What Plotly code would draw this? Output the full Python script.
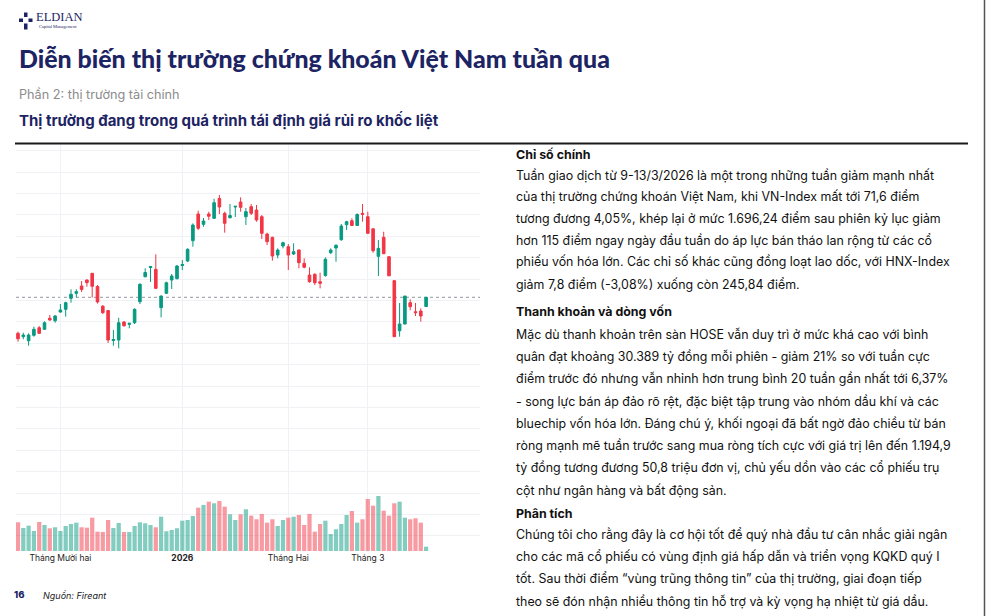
import pandas as pd
import plotly.graph_objects as go

# ---------------- data ----------------
holidays = ["2026-01-01", "2026-01-02", "2026-02-16", "2026-02-17",
            "2026-02-18", "2026-02-19", "2026-02-20"]
sessions = [d.strftime("%Y-%m-%d") for d in pd.bdate_range("2025-11-19", "2026-03-17")
            if d.strftime("%Y-%m-%d") not in holidays]

open_ = [1655.6, 1649.0, 1641.1, 1651.7, 1666.6, 1663.5, 1685.1, 1680.4, 1697.4, 1702.7,
         1724.3, 1734.1, 1748.5, 1760.2, 1773.4, 1747.5, 1708.8, 1700.4, 1641.5, 1642.5,
         1677.8, 1673.3, 1676.4, 1717.6, 1766.7, 1784.8, 1781.2, 1705.9, 1734.1, 1760.2,
         1762.8, 1788.7, 1797.5, 1837.4, 1889.8, 1869.5, 1889.8, 1881.3, 1920.2, 1891.1,
         1882.5, 1903.5, 1913.3, 1884.5, 1904.1, 1897.6, 1884.5, 1850.5, 1844.0, 1809.3,
         1827.0, 1825.6, 1811.3, 1819.1, 1793.0, 1770.0, 1771.4, 1756.9, 1769.1, 1813.8,
         1823.0, 1839.3, 1868.8, 1876.6, 1867.2, 1891.1, 1884.5, 1860.7, 1806.7, 1844.0,
         1806.0, 1758.9, 1660.7, 1673.9, 1715.7, 1698.0, 1699.4, 1708.2]
high = [1658.8, 1656.8, 1655.6, 1668.6, 1670.0, 1679.2, 1691.5, 1691.5, 1713.1, 1717.6,
        1742.0, 1742.0, 1758.3, 1761.6, 1774.0, 1750.4, 1711.2, 1701.4, 1662.1, 1686.0,
        1679.8, 1675.8, 1704.7, 1753.8, 1783.2, 1787.7, 1810.7, 1729.8, 1756.9, 1772.0,
        1789.7, 1799.5, 1822.4, 1871.5, 1896.2, 1881.9, 1894.3, 1919.8, 1927.1, 1894.3,
        1909.4, 1905.5, 1922.5, 1901.5, 1909.4, 1907.4, 1887.8, 1853.1, 1845.2, 1822.4,
        1835.4, 1830.9, 1832.3, 1820.1, 1802.8, 1785.2, 1773.4, 1774.6, 1804.8, 1822.4,
        1830.3, 1870.1, 1876.6, 1881.3, 1891.1, 1909.4, 1894.3, 1861.7, 1838.7, 1855.0,
        1807.3, 1760.2, 1715.1, 1728.8, 1722.4, 1715.1, 1704.7, 1726.8]
low = [1639.1, 1643.9, 1631.3, 1649.0, 1654.3, 1662.1, 1680.4, 1676.4, 1696.1, 1688.2,
       1715.7, 1726.3, 1736.7, 1747.1, 1725.9, 1714.1, 1693.5, 1636.6, 1631.3, 1626.2,
       1668.6, 1665.4, 1673.9, 1713.1, 1765.5, 1756.3, 1742.6, 1687.0, 1732.8, 1742.6,
       1761.6, 1779.9, 1795.6, 1825.6, 1858.4, 1864.8, 1878.0, 1880.0, 1889.8, 1853.1,
       1880.9, 1883.9, 1894.3, 1868.2, 1887.8, 1874.7, 1840.7, 1828.9, 1798.1, 1802.8,
       1822.4, 1779.9, 1809.3, 1783.2, 1783.2, 1754.9, 1750.4, 1743.9, 1766.7, 1811.3,
       1796.1, 1837.4, 1858.4, 1866.2, 1866.2, 1874.7, 1850.5, 1813.8, 1768.1, 1811.3,
       1768.1, 1648.4, 1649.0, 1672.9, 1700.8, 1689.6, 1678.4, 1707.8]
close = [1645.0, 1652.3, 1652.3, 1663.5, 1655.6, 1676.4, 1681.7, 1689.6, 1701.4, 1715.7,
         1732.2, 1737.3, 1741.6, 1754.9, 1747.9, 1717.1, 1696.1, 1642.5, 1643.5, 1676.4,
         1670.5, 1675.3, 1702.7, 1751.8, 1775.0, 1786.7, 1743.9, 1728.8, 1754.9, 1768.1,
         1787.7, 1790.7, 1820.5, 1868.2, 1861.7, 1876.0, 1885.3, 1911.9, 1903.5, 1871.5,
         1886.8, 1904.9, 1902.9, 1894.3, 1891.1, 1878.0, 1851.9, 1835.4, 1807.3, 1819.1,
         1833.4, 1809.3, 1815.8, 1794.2, 1785.2, 1756.9, 1754.9, 1753.8, 1800.9, 1819.1,
         1828.3, 1866.2, 1874.7, 1867.2, 1888.8, 1889.2, 1851.9, 1817.7, 1822.4, 1811.8,
         1768.5, 1649.0, 1673.9, 1728.8, 1707.8, 1696.2, 1689.6, 1726.3]
volume = [718, 575, 633, 500, 725, 650, 568, 593, 500, 625,
          675, 708, 593, 583, 833, 483, 475, 775, 575, 700,
          475, 475, 625, 718, 693, 650, 593, 858, 493, 525,
          568, 758, 775, 875, 1083, 1150, 1233, 1193, 1250, 1108,
          918, 775, 918, 1043, 883, 793, 925, 708, 793, 625,
          775, 833, 858, 900, 650, 925, 483, 675, 758, 425,
          543, 675, 900, 1000, 708, 793, 1300, 1133, 1375, 1008,
          883, 1193, 1233, 833, 793, 818, 708, 108]

tick_dates = ["2025-12-01", "2026-01-05", "2026-02-02", "2026-03-02"]
tick_labels = ["Tháng Mười hai", "<b>2026</b>", "Tháng Hai", "Tháng 3"]

# ---------------- styling ----------------
UP, DOWN = "#089981", "#f23645"
UP_V, DOWN_V = "rgba(8,153,129,0.5)", "rgba(242,54,69,0.5)"
NAVY = "#1d2463"
GRID = "#f0f1f4"
W, H = 987, 616
L, R, T, B = 16, 480, 145, 551


def px(x):
    return (x - L) / (R - L)


def py(y):
    return (B - y) / (B - T)


vol_colors = [UP_V if c >= o else DOWN_V for o, c in zip(open_, close)]

fig = go.Figure()
fig.add_trace(go.Bar(x=sessions, y=volume, marker=dict(color=vol_colors, line=dict(width=0)),
                     yaxis="y2", showlegend=False, hoverinfo="skip"))
fig.add_trace(go.Candlestick(x=sessions, open=open_, high=high, low=low, close=close,
                             increasing=dict(line=dict(color=UP, width=1), fillcolor=UP),
                             decreasing=dict(line=dict(color=DOWN, width=1), fillcolor=DOWN),
                             whiskerwidth=0, showlegend=False))

shapes = []
shapes.append(dict(type="line", xref="paper", yref="y", x0=0, x1=1, y0=close[-1], y1=close[-1],
                   line=dict(color="#9598a1", width=1, dash="dot"), layer="below"))
shapes.append(dict(type="line", xref="paper", yref="paper", x0=px(15), x1=px(968),
                   y0=py(143.5), y1=py(143.5), line=dict(color="#1a1a1a", width=2)))
shapes.append(dict(type="line", xref="paper", yref="paper", x0=px(984.5), x1=px(984.5),
                   y0=py(0), y1=py(616), line=dict(color="#555555", width=1.5)))
for (x0, y0, x1, y1) in [(24, 12.5, 27.5, 29.5), (19, 18.5, 32.5, 22)]:
    shapes.append(dict(type="rect", xref="paper", yref="paper", x0=px(x0), x1=px(x1),
                       y0=py(y1), y1=py(y0), line=dict(width=0), fillcolor=NAVY))
shapes.append(dict(type="rect", xref="paper", yref="paper", x0=px(23), x1=px(28.5),
                   y0=py(23.5), y1=py(17), line=dict(width=0), fillcolor="white"))

ann = []


def text(x, y, s, size, color="#1a1a1a", family="Inter", weight=None, anchor="left", italic=False):
    f = dict(size=size, color=color, family=family)
    if weight:
        f["weight"] = weight
    if italic:
        f["style"] = "italic"
    ann.append(dict(x=px(x), y=py(y), xref="paper", yref="paper", text=s, showarrow=False,
                    xanchor=anchor, yanchor="middle", font=f))


text(34, 17, "ELDIAN", 12.5, NAVY, "Liberation Serif")
text(37, 26.5, "Capital Management", 4.5, NAVY, "Liberation Serif")
text(17, 58, "Diễn biến thị trường chứng khoán Việt Nam tuần qua", 24.9, NAVY, "Lato", 900)
text(17, 94, "Phần 2: thị trường tài chính", 12.7, "#8c8c8c", "Inter")
text(17, 120, "Thị trường đang trong quá trình tái định giá rủi ro khốc liệt", 15, NAVY, "Inter", 700)

body = [
    (154, "Chỉ số chính", True),
    (175.5, "Tuần giao dịch từ 9-13/3/2026 là một trong những tuần giảm mạnh nhất", False),
    (197, "của thị trường chứng khoán Việt Nam, khi VN-Index mất tới 71,6 điểm", False),
    (218.5, "tương đương 4,05%, khép lại ở mức 1.696,24 điểm sau phiên kỷ lục giảm", False),
    (240, "hơn 115 điểm ngay ngày đầu tuần do áp lực bán tháo lan rộng từ các cổ", False),
    (261.5, "phiếu vốn hóa lớn. Các chỉ số khác cũng đồng loạt lao dốc, với HNX-Index", False),
    (284, "giảm 7,8 điểm (-3,08%) xuống còn 245,84 điểm.", False),
    (311, "Thanh khoản và dòng vốn", True),
    (334, "Mặc dù thanh khoản trên sàn HOSE vẫn duy trì ở mức khá cao với bình", False),
    (356.5, "quân đạt khoảng 30.389 tỷ đồng mỗi phiên - giảm 21% so với tuần cực", False),
    (378.5, "điểm trước đó nhưng vẫn nhỉnh hơn trung bình 20 tuần gần nhất tới 6,37%", False),
    (401, "- song lực bán áp đảo rõ rệt, đặc biệt tập trung vào nhóm dầu khí và các", False),
    (423, "bluechip vốn hóa lớn. Đáng chú ý, khối ngoại đã bất ngờ đảo chiều từ bán", False),
    (445.5, "ròng mạnh mẽ tuần trước sang mua ròng tích cực với giá trị lên đến 1.194,9", False),
    (467.5, "tỷ đồng tương đương 50,8 triệu đơn vị, chủ yếu dồn vào các cổ phiếu trụ", False),
    (490, "cột như ngân hàng và bất động sản.", False),
    (513, "Phân tích", True),
    (534.5, "Chúng tôi cho rằng đây là cơ hội tốt để quý nhà đầu tư cân nhắc giải ngân", False),
    (556.5, "cho các mã cổ phiếu có vùng định giá hấp dẫn và triển vọng KQKD quý I", False),
    (578.5, "tốt. Sau thời điểm “vùng trũng thông tin” của thị trường, giai đoạn tiếp", False),
    (601, "theo sẽ đón nhận nhiều thông tin hỗ trợ và kỳ vọng hạ nhiệt từ giá dầu.", False),
]
for y, s, bold in body:
    text(514, y, s, 12.4 if bold else 12.4, "#111111", "Inter", 700 if bold else 400)

text(12, 594.5, "16", 9.5, NAVY, "Inter", 800)
text(41, 595.5, "Nguồn: Fireant", 9, "#222222", "Inter", italic=True)

fig.update_layout(
    width=W, height=H,
    margin=dict(l=L, r=W - R, t=T, b=H - B, pad=0),
    paper_bgcolor="white", plot_bgcolor="white",
    showlegend=False,
    bargap=0.2,
    boxgap=0.3,
    xaxis=dict(type="category", range=[-0.377, 87.17], rangeslider=dict(visible=False),
               tickmode="array", tickvals=tick_dates, ticktext=tick_labels,
               showgrid=True, gridcolor=GRID, gridwidth=1, showline=False, zeroline=False,
               ticks="", tickfont=dict(family="Inter", size=8.5, color="#222222")),
    yaxis=dict(range=[1228.4, 2025.2], tick0=1720, dtick=42, showgrid=True, gridcolor=GRID,
               showticklabels=False, zeroline=False, showline=False),
    yaxis2=dict(range=[0, 10150], overlaying="y", showgrid=False, showticklabels=False,
                zeroline=False, showline=False),
    shapes=shapes,
    annotations=ann,
)

fig.write_html("out.html", config={"displayModeBar": False},
               post_script="document.body.style.margin='0px';document.body.style.overflow='hidden';")
